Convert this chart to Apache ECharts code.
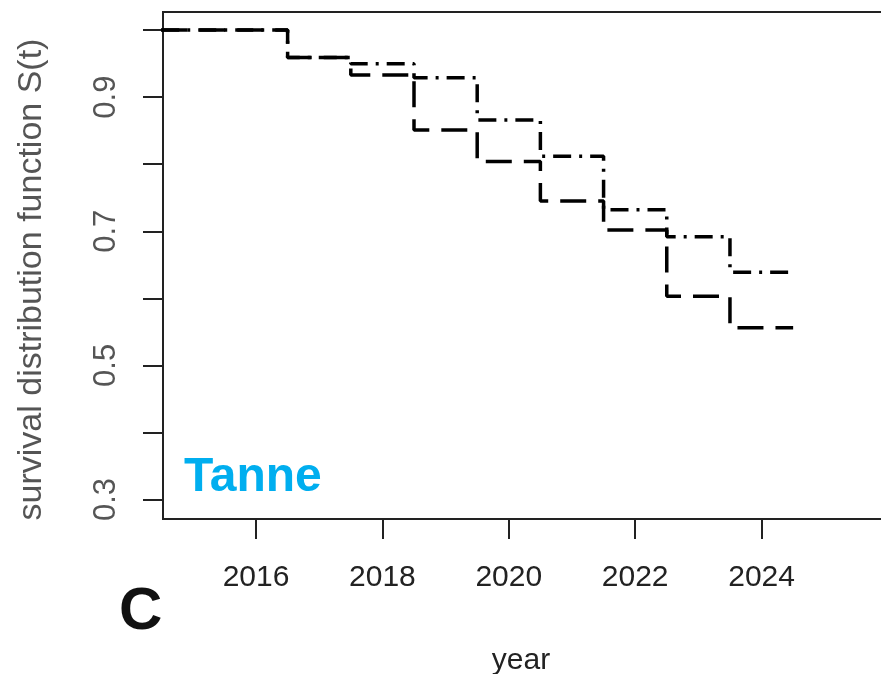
<!DOCTYPE html>
<html>
<head>
<meta charset="utf-8">
<script src="https://cdn.jsdelivr.net/npm/echarts@6/dist/echarts.min.js"></script>
<style>
html,body{margin:0;padding:0;background:#fff;}
#chart{width:881px;height:674px;}
</style>
</head>
<body>
<div id="chart"></div>
<script>
// Step change points (year) and survival values
const years = [2014.5, 2016.5, 2017.5, 2018.5, 2019.5, 2020.5, 2021.5, 2022.5, 2023.5, 2024.5];
const survDashDot = [1.0, 0.959, 0.950, 0.929, 0.866, 0.812, 0.732, 0.692, 0.639, 0.639];
const survDashed  = [1.0, 0.959, 0.933, 0.851, 0.804, 0.745, 0.702, 0.603, 0.556, 0.556];
const xTickLabels = [2016, 2018, 2020, 2022, 2024];
const yTicks = [0.3, 0.4, 0.5, 0.6, 0.7, 0.8, 0.9, 1.0];
const yTickLabels = [0.3, 0.5, 0.7, 0.9];

const chart = echarts.init(document.getElementById('chart'), null, {renderer: 'canvas'});
const font = '"Liberation Sans", Arial, sans-serif';

function pairs(xs, ys) { return xs.map((x, i) => [x, ys[i]]); }

chart.setOption({
  animation: false,
  backgroundColor: '#ffffff',
  title: [
    { text: 'Tanne', left: 179, top: 449,
      textStyle: { color: '#00AEEF', fontSize: 48, fontWeight: 'bold', fontFamily: font } },
    { text: 'C', left: 114, top: 577,
      textStyle: { color: '#111', fontSize: 60, fontWeight: 'bold', fontFamily: font } }
  ],
  grid: { left: 163, top: 12, width: 730, height: 507, outerBoundsMode: 'none', show: true, borderColor: '#222', borderWidth: 2, backgroundColor: 'transparent', containLabel: false },
  xAxis: {
    type: 'value', min: 2014.528, max: 2026.08,
    name: 'year', nameLocation: 'middle', nameGap: 127,
    nameTextStyle: { color: '#222', fontSize: 30, fontFamily: font, padding: [0, 14, 0, 0] },
    axisLine: { show: true, onZero: false, lineStyle: { color: '#222', width: 2 } },
    axisTick: { show: true, length: 20, lineStyle: { color: '#222', width: 2 }, customValues: xTickLabels },
    axisLabel: { color: '#222', fontSize: 30, fontFamily: font, margin: 44, customValues: xTickLabels, formatter: v => String(v) },
    splitLine: { show: false }
  },
  yAxis: {
    type: 'value', min: 0.271, max: 1.027,
    name: 'survival distribution function S(t)', nameLocation: 'middle', nameGap: 114, nameRotate: 90,
    nameTextStyle: { color: '#555', fontSize: 34, fontFamily: font, padding: [0, 28, 0, 0] },
    axisLine: { show: true, onZero: false, lineStyle: { color: '#222', width: 2 } },
    axisTick: { show: true, length: 20, lineStyle: { color: '#222', width: 2 }, customValues: yTicks },
    axisLabel: { color: '#555', fontSize: 31, fontFamily: font, rotate: 90, margin: 41, customValues: yTickLabels, formatter: v => v.toFixed(1) },
    splitLine: { show: false }
  },
  series: [
    { type: 'line', step: 'end', symbol: 'none', data: pairs(years, survDashDot),
      lineStyle: { color: '#000', width: 3.5, type: [18, 8, 3, 8] }, z: 3 },
    { type: 'line', step: 'end', symbol: 'none', data: pairs(years, survDashed),
      lineStyle: { color: '#000', width: 3.5, type: [26, 12] }, z: 2 }
  ]
});
</script>
</body>
</html>
